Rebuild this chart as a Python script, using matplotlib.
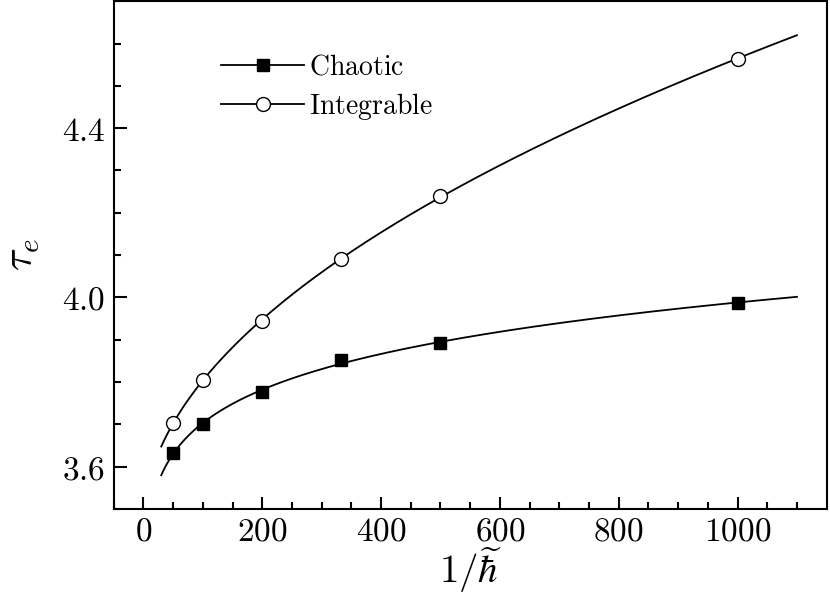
import numpy as np
import matplotlib
matplotlib.use("Agg")
import matplotlib.pyplot as plt
from matplotlib.ticker import MultipleLocator, FuncFormatter

plt.rcParams["mathtext.fontset"] = "cm"
plt.rcParams["font.family"] = "serif"
plt.rcParams["font.serif"] = ["DejaVu Serif"]

# data
inv_hbar = [50, 100, 200, 333, 500, 1000]
chaotic = [3.632, 3.701, 3.777, 3.852, 3.893, 3.987]
integrable = [3.703, 3.805, 3.945, 4.091, 4.240, 4.564]


def power_fit(x, y):
    # y = a + b * x**c, scan c and solve a, b by least squares
    x = np.asarray(x, float)
    y = np.asarray(y, float)
    best = None
    for c in np.linspace(-1.5, 1.0, 501):
        if abs(c) < 1e-6:
            continue
        A = np.column_stack([np.ones_like(x), x ** c])
        coef, *_ = np.linalg.lstsq(A, y, rcond=None)
        err = np.sum((A @ coef - y) ** 2)
        if best is None or err < best[0]:
            best = (err, coef[0], coef[1], c)
    _, a, b, c = best
    return lambda t: a + b * t ** c


xf = np.linspace(30, 1100, 300)
fc = power_fit(inv_hbar, chaotic)
fi = power_fit(inv_hbar, integrable)

fig = plt.figure(figsize=(8.3, 5.96), dpi=100)
ax = fig.add_axes([0.137, 0.146, 0.859, 0.852])

ax.plot(xf, fc(xf), color="black", lw=1.3)
ax.plot(xf, fi(xf), color="black", lw=1.3)
ax.plot(inv_hbar, chaotic, "s", color="black", ms=9, ls="none")
ax.plot(inv_hbar, integrable, "o", mfc="white", mec="black", mew=1.0, ms=10, ls="none")

# legend handles
ax.plot([], [], "-s", color="black", ms=9, lw=1.3, label=r"$\mathrm{Chaotic}$")
ax.plot([], [], "-o", color="black", mfc="white", ms=10, lw=1.3, label=r"$\mathrm{Integrable}$")
ax.legend(loc="upper left", bbox_to_anchor=(0.135, 0.918), frameon=False,
          fontsize=20, handlelength=3.0, handletextpad=0.15, labelspacing=0.35,
          borderaxespad=0)

ax.set_xlim(-50, 1150)
ax.set_ylim(3.5, 4.7)
ax.xaxis.set_major_locator(MultipleLocator(200))
ax.xaxis.set_minor_locator(MultipleLocator(50))
ax.yaxis.set_major_locator(MultipleLocator(0.4))
ax.yaxis.set_minor_locator(MultipleLocator(0.1))
ax.xaxis.set_major_formatter(FuncFormatter(lambda v, p: r"$%d$" % round(v)))
ax.yaxis.set_major_formatter(FuncFormatter(lambda v, p: r"$%.1f$" % v))

ax.tick_params(which="both", direction="in", top=False, right=False, width=1.5, labelsize=24)
ax.tick_params(which="major", length=9)
ax.tick_params(axis="x", which="major", pad=5)
ax.tick_params(axis="y", which="major", pad=6)
ax.tick_params(which="minor", length=5)
for s in ax.spines.values():
    s.set_linewidth(1.5)

ax.set_xlabel(r"$1/\widetilde{\hbar}$", fontsize=28, labelpad=-2)
ax.set_ylabel(r"$\tau_e$", fontsize=30, labelpad=14)

fig.savefig("out.png", dpi=100)
